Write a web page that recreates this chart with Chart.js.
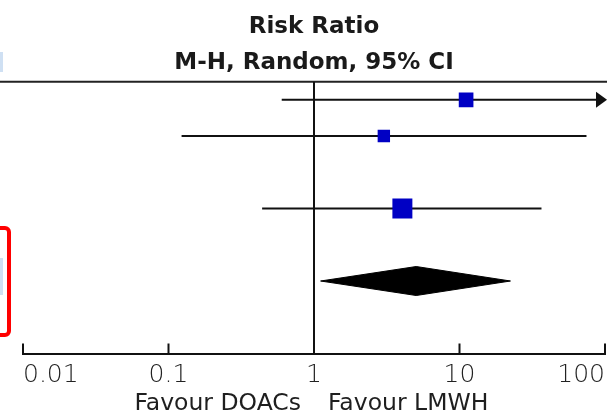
<!DOCTYPE html>
<html>
<head>
<meta charset="utf-8">
<script src="https://cdn.jsdelivr.net/npm/chart.js@4.4.1/dist/chart.umd.min.js"></script>
<style>
html,body{margin:0;padding:0;background:#fff;}
#wrap{width:607px;height:416px;position:relative;}
</style>
</head>
<body>
<div id="wrap"><canvas id="c" width="607" height="416"></canvas></div>
<script>
// ---- data ----
const studyRowIndex = [0, 1, 3];          // row of each study in the plot (row 2 is empty)
const studyRR       = [11.1, 3.02, 4.05];   // point estimates
const studyLow      = [0.60, 0.123, 0.44];  // lower 95% CI
const studyHigh     = [250, 74.6, 36.6];    // upper 95% CI (first one runs off the axis)
const studyWeight   = [28, 20, 52];         // weights, %
const pooledRowIndex = 5;
const pooledRR   = 5.04;
const pooledLow  = 1.11;
const pooledHigh = 22.4;
const tickValues = [0.01, 0.1, 1, 10, 100];
const tickLabels = ['0.01', '0.1', '1', '10', '100'];
const titleLines = ['Risk Ratio', 'M-H, Random, 95% CI'];
const favourLeft = 'Favour DOACs';
const favourRight = 'Favour LMWH';
const nullValue = 1;

// ---- styles ----
const ROW_MAX = 7.5;
const DIAMOND_HALF = 0.4;
const SQUARE_K = 2.77;
const rowY = i => i + 0.5;

const datasets = [];

// squares (on top)
datasets.push({
  type: 'scatter',
  order: 0,
  data: studyRR.map((v, i) => ({x: v, y: rowY(studyRowIndex[i])})),
  pointStyle: 'rect',
  pointRadius: ctx => (SQUARE_K * Math.sqrt(studyWeight[ctx.dataIndex])) / (2 * Math.SQRT1_2),
  pointHoverRadius: ctx => (SQUARE_K * Math.sqrt(studyWeight[ctx.dataIndex])) / (2 * Math.SQRT1_2),
  backgroundColor: '#0000c4',
  borderWidth: 0,
  showLine: false
});

// pooled diamond
datasets.push({
  type: 'line',
  order: 1,
  data: [
    {x: pooledLow, y: rowY(pooledRowIndex)},
    {x: pooledRR, y: rowY(pooledRowIndex) - DIAMOND_HALF},
    {x: pooledHigh, y: rowY(pooledRowIndex)},
    {x: pooledRR, y: rowY(pooledRowIndex) + DIAMOND_HALF},
    {x: pooledLow, y: rowY(pooledRowIndex)}
  ],
  borderColor: '#000',
  backgroundColor: '#000',
  borderWidth: 1,
  fill: 'shape',
  tension: 0,
  pointRadius: 0
});

// CI lines
studyRR.forEach((v, i) => {
  datasets.push({
    type: 'line',
    order: 2,
    data: [{x: studyLow[i], y: rowY(studyRowIndex[i])}, {x: studyHigh[i], y: rowY(studyRowIndex[i])}],
    borderColor: '#111',
    borderWidth: 2,
    pointRadius: 0,
    fill: false
  });
});

// line of no effect
datasets.push({
  type: 'line',
  order: 3,
  data: [{x: nullValue, y: 0}, {x: nullValue, y: ROW_MAX}],
  borderColor: '#111',
  borderWidth: 2,
  pointRadius: 0,
  fill: false
});

const decorPlugin = {
  id: 'decor',
  beforeDatasetsDraw(chart) {
    const {ctx, chartArea, scales} = chart;
    ctx.save();
    // top rule across the table
    ctx.strokeStyle = '#222';
    ctx.lineWidth = 2;
    ctx.beginPath();
    ctx.moveTo(0, chartArea.top);
    ctx.lineTo(chart.width, chartArea.top);
    ctx.stroke();
    // faint light-blue fragments at the left edge
    ctx.fillStyle = '#cfe0f3';
    ctx.fillRect(0, 52, 3, 20);
    const py = scales.y.getPixelForValue(rowY(pooledRowIndex));
    ctx.fillRect(0, py - 23, 3, 37);
    // red highlight box (cut off on the left)
    ctx.strokeStyle = '#ff0000';
    ctx.lineWidth = 4;
    ctx.beginPath();
    ctx.roundRect(-12, py - 53, 21, 107, 4);
    ctx.stroke();
    ctx.restore();
  },
  afterDatasetsDraw(chart) {
    const {ctx, chartArea, scales} = chart;
    const xs = scales.x, ys = scales.y;
    ctx.save();
    // arrows for CIs running off the axis
    ctx.fillStyle = '#111';
    studyHigh.forEach((h, i) => {
      if (h > xs.max) {
        const y = ys.getPixelForValue(rowY(studyRowIndex[i]));
        const tip = chartArea.right + 2;
        ctx.beginPath();
        ctx.moveTo(tip, y);
        ctx.lineTo(tip - 11, y - 8);
        ctx.lineTo(tip - 11, y + 8);
        ctx.closePath();
        ctx.fill();
      }
    });
    // upward tick marks on the axis
    ctx.strokeStyle = '#111';
    ctx.lineWidth = 2;
    tickValues.forEach(v => {
      const x = xs.getPixelForValue(v);
      ctx.beginPath();
      ctx.moveTo(x, chartArea.bottom - 10);
      ctx.lineTo(x, chartArea.bottom);
      ctx.stroke();
    });
    // favour labels
    const x1 = xs.getPixelForValue(nullValue);
    ctx.fillStyle = '#1e1e1e';
    ctx.font = '23.5px "DejaVu Sans"';
    ctx.textBaseline = 'alphabetic';
    ctx.textAlign = 'right';
    ctx.fillText(favourLeft, x1 - 13, 409.5);
    ctx.textAlign = 'left';
    ctx.fillText(favourRight, x1 + 14, 409.5);
    ctx.restore();
  }
};

new Chart(document.getElementById('c'), {
  data: {datasets},
  options: {
    responsive: false,
    animation: false,
    events: [],
    layout: {autoPadding: false, padding: {left: 23, right: 2, top: 0, bottom: 19}},
    plugins: {
      legend: {display: false},
      tooltip: {enabled: false},
      title: {
        display: true,
        text: titleLines,
        color: '#1a1a1a',
        font: {family: 'DejaVu Sans', size: 23, weight: 'bold', lineHeight: 1.58},
        padding: {top: 9, bottom: 0}
      }
    },
    scales: {
      x: {
        type: 'logarithmic',
        min: tickValues[0],
        max: tickValues[tickValues.length - 1],
        afterBuildTicks: s => { s.ticks = tickValues.map(v => ({value: v, major: false})); },
        afterFit: s => { s.paddingLeft = 0; s.paddingRight = 0; },
        ticks: {
          callback: v => tickLabels[tickValues.indexOf(v)],
          align: 'inner',
          autoSkip: false,
          maxRotation: 0,
          padding: 0,
          color: '#222',
          font: {family: 'DejaVu Sans', size: 25, weight: 200, lineHeight: 1.74}
        },
        grid: {display: true, drawOnChartArea: false, drawTicks: false},
        border: {display: true, color: '#111', width: 2}
      },
      y: {
        type: 'linear',
        min: 0,
        max: ROW_MAX,
        reverse: true,
        display: false
      }
    }
  },
  plugins: [decorPlugin]
});
</script>
</body>
</html>
